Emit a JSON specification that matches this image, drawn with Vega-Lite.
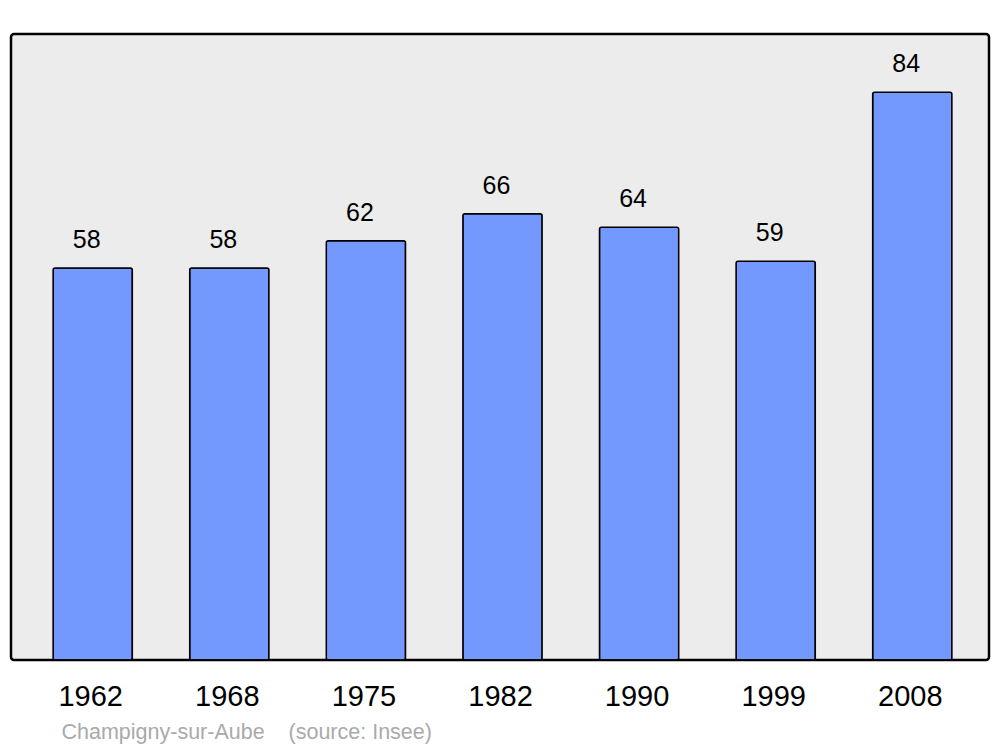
{
  "$schema": "https://vega.github.io/schema/vega-lite/v6.json",
  "autosize": {"type": "none"},
  "width": 978,
  "height": 626,
  "padding": {"left": 11, "top": 34, "right": 11, "bottom": 87},
  "background": "white",
  "config": {
    "font": "Liberation Sans",
    "view": {"fill": "#ececec", "stroke": "black", "strokeWidth": 2.5, "cornerRadius": 3}
  },
  "data": {
    "values": [
      {"year": "1962", "pop": 58},
      {"year": "1968", "pop": 58},
      {"year": "1975", "pop": 62},
      {"year": "1982", "pop": 66},
      {"year": "1990", "pop": 64},
      {"year": "1999", "pop": 59},
      {"year": "2008", "pop": 84}
    ]
  },
  "encoding": {
    "x": {
      "field": "year",
      "type": "nominal",
      "sort": null,
      "scale": {"paddingInner": 0.42, "paddingOuter": 0.29, "range": [2.5, 980.5]},
      "axis": {
        "title": "Champigny-sur-Aube \u00a0\u00a0\u00a0(source: Insee)",
        "titleFontSize": 21.5,
        "titleFontWeight": "normal",
        "titleColor": "#aaaaaa",
        "titleAnchor": "start",
        "titleAlign": "left",
        "titleBaseline": "alphabetic",
        "titleX": 50,
        "titleY": 78,
        "labelAngle": 0,
        "labelFontSize": 29,
        "labelColor": "black",
        "labelBaseline": "alphabetic",
        "labelPadding": 45,
        "labelOffset": -2,
        "ticks": false,
        "domain": false,
        "grid": false
      }
    },
    "y": {
      "field": "pop",
      "type": "quantitative",
      "scale": {"domain": [0, 92.6], "nice": false, "zero": true},
      "axis": null
    }
  },
  "layer": [
    {
      "mark": {"type": "bar", "fill": "#7399ff", "stroke": "black", "strokeWidth": 1.5, "cornerRadius": 2}
    },
    {
      "mark": {"type": "text", "fontSize": 25, "color": "black", "baseline": "alphabetic", "dy": -20, "dx": -6},
      "encoding": {"text": {"field": "pop", "type": "quantitative"}}
    }
  ]
}
